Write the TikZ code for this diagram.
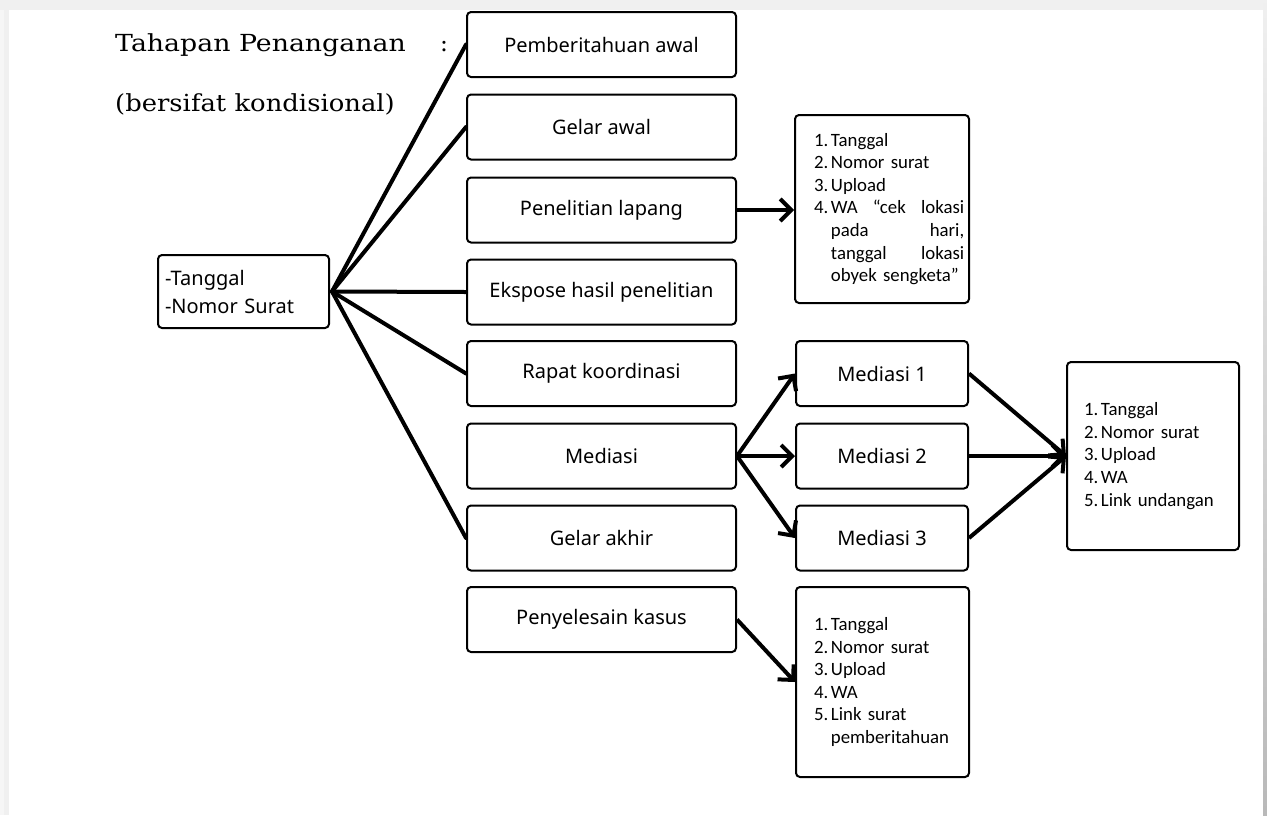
\documentclass[tikz,border=0pt]{standalone}
\usepackage{fontspec}
\setmainfont{Noto Sans}
\newfontfamily\listfont{Carlito}
\newfontfamily\titlefont{DejaVu Serif}
\usetikzlibrary{arrows.meta,calc}

% number of a list item followed by a small gap
\newcommand\numlab[1]{#1\hspace{2.5pt}}
% blank space as wide as a number, for continuation lines
\newcommand\numgap{\phantom{4.}\hspace{2.5pt}}
% a line spread over the full text width
\newcommand\fullline[2]{\makebox[#1][l]{#2}}

\begin{document}
\begin{tikzpicture}[x=1pt,y=-1pt,
  stagebox/.style={draw, line width=2pt, rounded corners=4pt,
    minimum width=269pt, minimum height=65pt, inner sep=0pt,
    font=\fontsize{20}{24}\selectfont},
  medbox/.style={stagebox, minimum width=172pt},
  listbox/.style={draw, line width=2pt, rounded corners=4pt, inner sep=0pt},
  listtext/.style={anchor=west, align=left, inner sep=0pt,
    font=\listfont\fontsize{18.8}{22.6}\selectfont},
  conn/.style={line width=4pt, line cap=round},
  arr/.style={line width=4pt, -{Straight Barb[length=11pt,width=22pt]}},
  titletext/.style={anchor=base west, inner sep=0pt,
    font=\titlefont\fontsize{23.5}{28}\selectfont}]

\useasboundingbox (0,0) rectangle (1267,815);

% page on a light grey frame
\fill[gray!12] (0,0) rectangle (1267,815);
\fill[gray!7] (0,10) rectangle (4,815);
\shade[top color=gray!12, bottom color=gray!55] (1263,0) rectangle (1267,815);
\fill[white] (9,10) rectangle (1263,815);

% heading
\node[titletext] (t1) at (115,51) {\scalebox{1.14}[1]{Tahapan Penanganan}};
\node[titletext] (colon) at (440,51) {:};
\node[titletext] (t2) at (115,111) {\scalebox{1.1}[1]{(bersifat kondisional)}};

% starting record
\node[draw, line width=2pt, rounded corners=4pt, minimum width=171pt,
  minimum height=73pt, text width=157pt, inner xsep=7pt, inner ysep=0pt,
  align=left, font=\fontsize{20}{28}\selectfont]
  (start) at (243.5,291.5) {-Tanggal\\-Nomor Surat};

% handling stages
\node[stagebox] (s1) at (601.5,44.5) {Pemberitahuan awal};
\node[stagebox] (s2) at (601.5,127) {Gelar awal};
\node[stagebox] (s3) at (601.5,210) {Penelitian lapang};
\node[stagebox] (s4) at (601.5,292) {Ekspose hasil penelitian};
\node[stagebox] (s5) at (601.5,373.5) {Rapat koordinasi};
\node[stagebox] (s6) at (601.5,456) {Mediasi};
\node[stagebox] (s7) at (601.5,538) {Gelar akhir};
\node[stagebox] (s8) at (601.5,619.5) {Penyelesain kasus};

% mediation rounds
\node[medbox] (m1) at (882,373.5) {Mediasi 1};
\node[medbox] (m2) at (882,456) {Mediasi 2};
\node[medbox] (m3) at (882,538) {Mediasi 3};

% field research record
\node[listbox, minimum width=174pt, minimum height=188pt] (l1) at (882,209) {};
\node[listtext, text width=151pt] at ($(l1.west)+(20,0)$) {%
  \numlab{1.}Tanggal\\
  \numlab{2.}Nomor surat\\
  \numlab{3.}Upload\\
  \fullline{150pt}{\numlab{4.}WA\hfill “cek\hfill lokasi}\\
  \fullline{150pt}{\numgap pada\hfill hari,}\\
  \fullline{150pt}{\numgap tanggal\hfill lokasi}\\
  \numgap obyek sengketa”};

% mediation record
\node[listbox, minimum width=172pt, minimum height=188pt] (l2) at (1153,456) {};
\node[listtext, text width=145pt] at ($(l2.west)+(18,0)$) {%
  \numlab{1.}Tanggal\\
  \numlab{2.}Nomor surat\\
  \numlab{3.}Upload\\
  \numlab{4.}WA\\
  \numlab{5.}Link undangan};

% closing record
\node[listbox, minimum width=173pt, minimum height=190pt] (l3) at (882.5,682) {};
\node[listtext, text width=145pt] at ($(l3.west)+(19,0)$) {%
  \numlab{1.}Tanggal\\
  \numlab{2.}Nomor surat\\
  \numlab{3.}Upload\\
  \numlab{4.}WA\\
  \numlab{5.}Link surat\\
  \numgap pemberitahuan};

% fan from the starting record
\coordinate (hub) at ($(start.east)+(2,0)$);
\foreach \s in {s1,s2,s4,s5,s7}
  \draw[conn] (hub) -- (\s.west);

% arrows
\draw[arr] (s3.east) -- (l1.west |- s3.east);
\draw[arr] (s6.east) -- (m1.west);
\draw[arr] (s6.east) -- (m2.west);
\draw[arr] (s6.east) -- (m3.west);
\draw[arr] (m1.east) -- (l2.west);
\draw[arr] (m2.east) -- (l2.west);
\draw[arr] (m3.east) -- (l2.west);
\draw[arr] (s8.east) -- (l3.west);

\end{tikzpicture}
\end{document}
